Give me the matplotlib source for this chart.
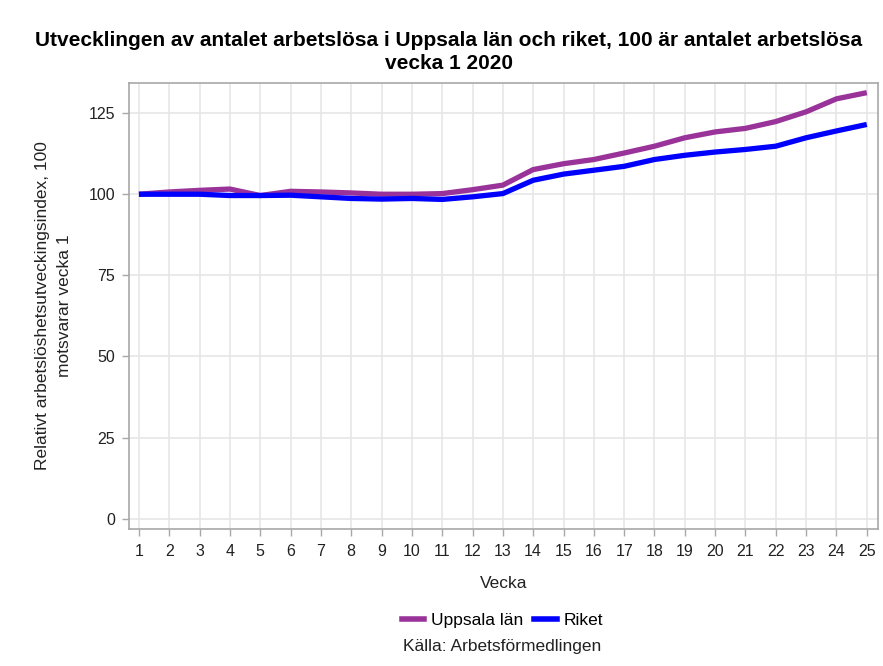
import matplotlib.pyplot as plt
from matplotlib.lines import Line2D

plt.rcParams['font.family'] = ['Liberation Sans', 'DejaVu Sans']

vecka = list(range(1, 26))
uppsala = [100.0, 100.7, 101.2, 101.6, 99.6, 100.9, 100.7, 100.4, 100.0, 100.0,
           100.2, 101.4, 102.8, 107.6, 109.4, 110.7, 112.7, 114.8, 117.4, 119.2,
           120.3, 122.4, 125.4, 129.4, 131.3]
riket = [100.0, 100.0, 100.0, 99.6, 99.6, 99.7, 99.2, 98.7, 98.5, 98.7,
         98.4, 99.2, 100.2, 104.3, 106.2, 107.4, 108.6, 110.7, 112.0, 113.0,
         113.8, 114.8, 117.4, 119.5, 121.5]
yticks = [0, 25, 50, 75, 100, 125]

fig = plt.figure(figsize=(8.83, 6.66), dpi=100)
ax = fig.add_axes([0.146, 0.206, 0.848, 0.669])

ax.plot(vecka, uppsala, color='#993399', lw=3.8, solid_capstyle='butt', zorder=3)
ax.plot(vecka, riket, color='#0000ff', lw=3.8, solid_capstyle='butt', zorder=4)

ax.set_xlim(0.67, 25.36)
ax.set_ylim(-3.1, 134.2)
ax.set_xticks(vecka)
ax.set_yticks(yticks)
ax.grid(True, color='#e6e6e6', lw=1.2)
ax.set_axisbelow(True)
for s in ax.spines.values():
    s.set_color('#a8a8a8')
    s.set_linewidth(1.2)
ax.tick_params(colors='#a8a8a8', labelcolor='#222222', labelsize=11.5, length=5, width=1)
ax.tick_params(axis='x', pad=6)
ax.tick_params(axis='y', pad=5)

ax.set_xlabel('Vecka', fontsize=12.5, color='#222222', labelpad=12)
ax.set_ylabel('Relativt arbetslöshetsutveckingsindex, 100\nmotsvarar vecka 1',
              fontsize=12.5, color='#222222', labelpad=12, linespacing=1.6)
fig.text(0.508, 0.922, 'Utvecklingen av antalet arbetslösa i Uppsala län och riket, 100 är antalet arbetslösa\nvecka 1 2020',
         ha='center', va='center', fontsize=15, fontweight='bold', linespacing=1.3)

handles = [Line2D([], [], color='#993399', lw=4), Line2D([], [], color='#0000ff', lw=4)]
fig.legend(handles, ['Uppsala län', 'Riket'], loc='center', bbox_to_anchor=(0.569, 0.069),
           ncol=2, frameon=False, fontsize=12.5, handlelength=1.3, handletextpad=0.4,
           columnspacing=0.6, borderpad=0)
fig.text(0.569, 0.029, 'Källa: Arbetsförmedlingen', ha='center', va='center', fontsize=12.5,
         color='#222222')

fig.savefig('out.png', dpi=100)
